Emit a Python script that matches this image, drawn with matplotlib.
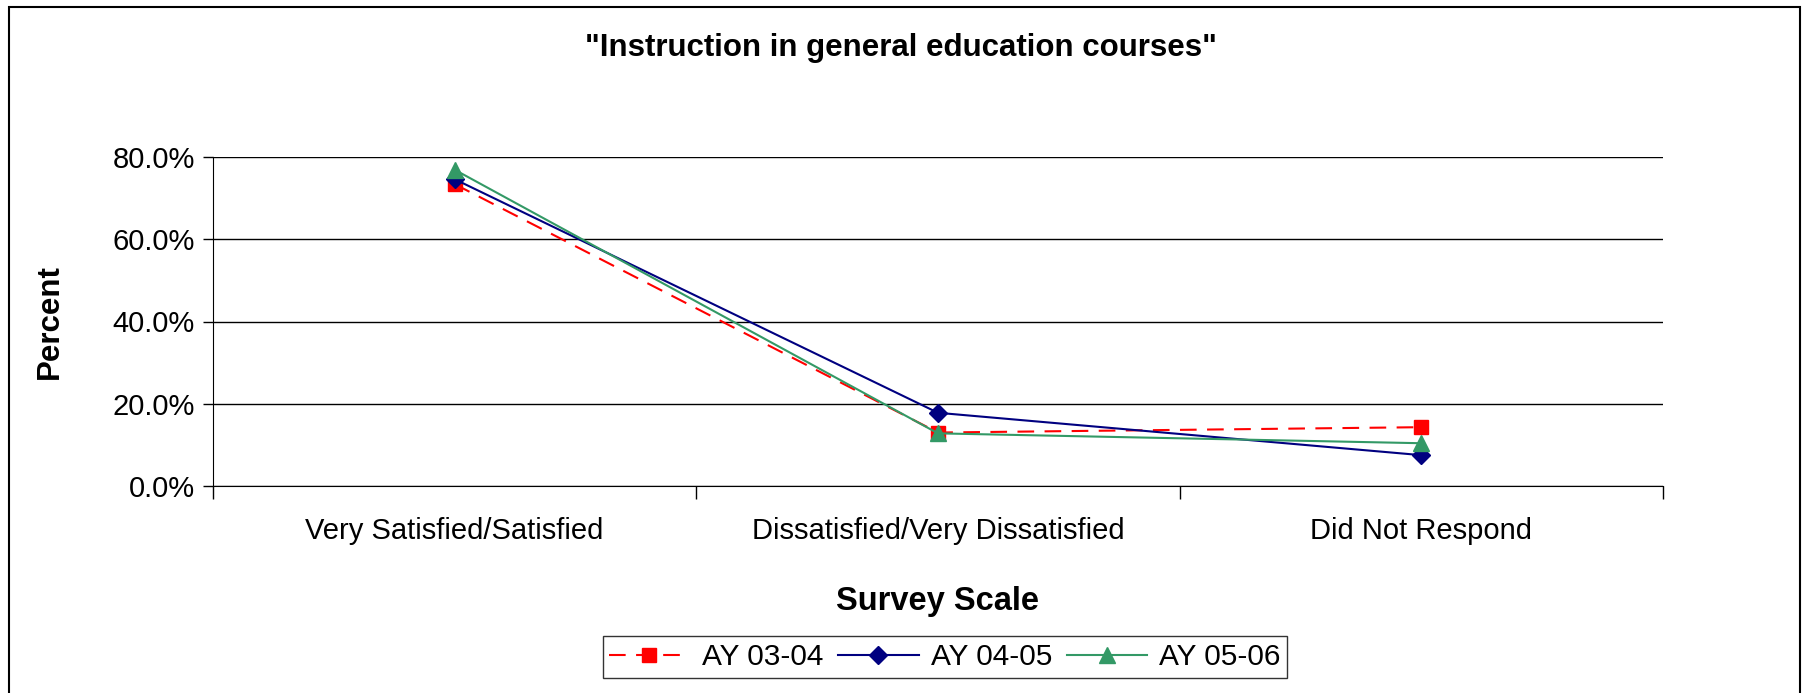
import matplotlib
matplotlib.use("Agg")
import matplotlib.pyplot as plt
from matplotlib.ticker import FuncFormatter
from matplotlib.patches import Rectangle

plt.rcParams["font.family"] = ["Liberation Sans", "DejaVu Sans"]

# survey data (percent of respondents)
categories = ["Very Satisfied/Satisfied", "Dissatisfied/Very Dissatisfied", "Did Not Respond"]
ay_03_04 = [73.4, 13.0, 14.3]
ay_04_05 = [74.6, 17.8, 7.5]
ay_05_06 = [76.9, 12.8, 10.4]
y_ticks = [0, 20, 40, 60, 80]

fig = plt.figure(figsize=(18.02, 6.93), dpi=100)
ax = fig.add_axes([213 / 1802, 1 - 486 / 693, 1450 / 1802, 329 / 693])

x = list(range(len(categories)))
ax.plot(x, ay_03_04, color="#FF0000", lw=1.5, dashes=(8, 5), marker="s", ms=10.5,
        label="AY 03-04", zorder=3)
ax.plot(x, ay_04_05, color="#000080", lw=1.5, marker="D", ms=9,
        label="AY 04-05", zorder=4)
ax.plot(x, ay_05_06, color="#339966", lw=1.5, marker="^", ms=11,
        label="AY 05-06", zorder=5)

ax.set_xlim(-0.5, 2.5)
ax.set_ylim(0, 80)
ax.set_yticks(y_ticks)
ax.yaxis.set_major_formatter(FuncFormatter(lambda v, pos: f"{v:.1f}%"))
ax.grid(axis="y", color="black", lw=1)
ax.set_axisbelow(True)

# categories sit between boundary ticks
ax.set_xticks(x)
ax.set_xticklabels(categories, fontsize=21)
ax.tick_params(axis="x", length=0, pad=22)
ax.set_xticks([-0.5, 0.5, 1.5, 2.5], minor=True)
ax.tick_params(axis="x", which="minor", length=9, color="black", width=1)
ax.tick_params(axis="y", labelsize=21, length=7, width=1, pad=6)

for side in ["top", "right"]:
    ax.spines[side].set_visible(False)
ax.spines["left"].set_color("black")
ax.spines["bottom"].set_color("black")

ax.set_ylabel("Percent", fontsize=22.5, fontweight="bold", labelpad=34)
ax.set_xlabel("Survey Scale", fontsize=23.5, fontweight="bold", labelpad=30)
fig.text(0.5, 1 - 48 / 693, '"Instruction in general education courses"',
         ha="center", va="center", fontsize=22.5, fontweight="bold")

leg = ax.legend(loc="center", bbox_to_anchor=(945 / 1802, 1 - 657 / 693),
                bbox_transform=fig.transFigure, ncol=3, fontsize=21.5, frameon=True,
                fancybox=False, edgecolor="black", handlelength=2.7,
                handletextpad=0.4, columnspacing=0.5, borderpad=0.22)
leg.get_frame().set_linewidth(1)

# outer chart frame
fig.patches.append(Rectangle((9 / 1802, -0.02), 1791 / 1802, 1 - 7 / 693 + 0.02,
                             transform=fig.transFigure, fill=False,
                             edgecolor="black", lw=1.5))

fig.savefig("out.png", dpi=100)
